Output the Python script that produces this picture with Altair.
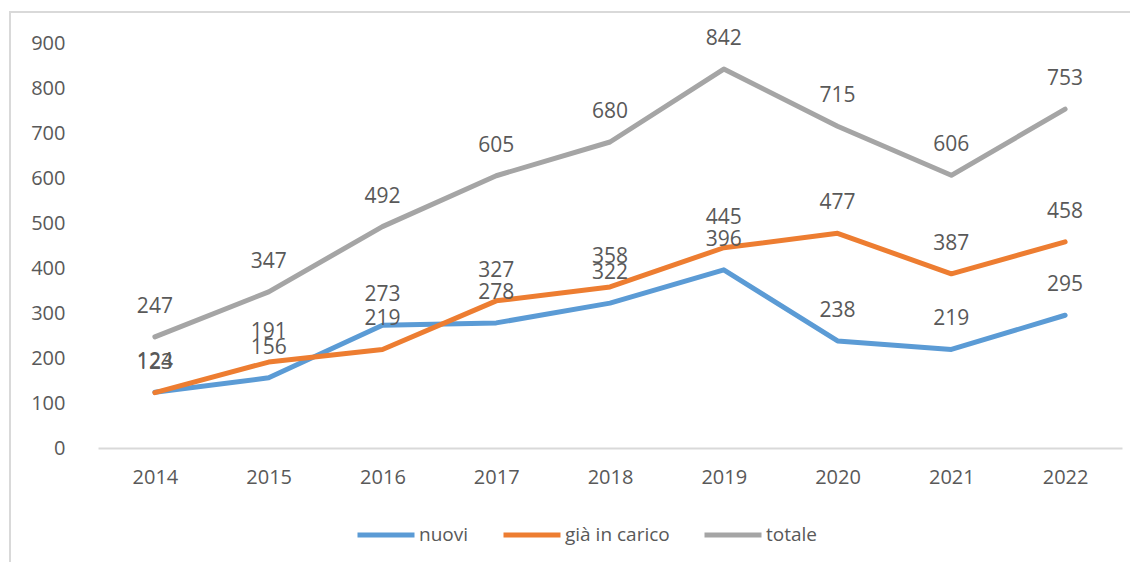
import altair as alt
import pandas as pd

years = ["2014", "2015", "2016", "2017", "2018", "2019", "2020", "2021", "2022"]
nuovi = [124, 156, 273, 278, 322, 396, 238, 219, 295]
gia_in_carico = [123, 191, 219, 327, 358, 445, 477, 387, 458]
totale = [247, 347, 492, 605, 680, 842, 715, 606, 753]
series_names = ["nuovi", "già in carico", "totale"]
series_colors = ["#5B9BD5", "#ED7D31", "#A5A5A5"]
y_ticks = [0, 100, 200, 300, 400, 500, 600, 700, 800, 900]

rows = []
for name, vals in zip(series_names, [nuovi, gia_in_carico, totale]):
    for y, v in zip(years, vals):
        rows.append({"anno": y, "serie": name, "valore": v})
df = pd.DataFrame(rows)

FONT = "Open Sans"
TEXT = "#595959"

x = alt.X("anno:N", sort=years, title=None,
          scale=alt.Scale(paddingInner=0, paddingOuter=0.5, padding=0.5),
          axis=alt.Axis(labelAngle=0, labelFontSize=20, labelColor=TEXT, labelFont=FONT,
                        ticks=False, domainColor="#D9D9D9", domainWidth=2, labelPadding=19,
                        grid=False))
y = alt.Y("valore:Q", title=None,
          scale=alt.Scale(domain=[0, 900], nice=False),
          axis=alt.Axis(values=y_ticks, labelFontSize=20, labelColor=TEXT, labelFont=FONT,
                        ticks=False, domain=False, grid=False, labelPadding=33))
color = alt.Color("serie:N", sort=series_names,
                  scale=alt.Scale(domain=series_names, range=series_colors),
                  legend=alt.Legend(title=None, orient="none", direction="horizontal",
                                    legendX=257, legendY=461,
                                    symbolType="stroke", symbolSize=3249, symbolStrokeWidth=5,
                                    labelFontSize=19, labelColor=TEXT, labelFont=FONT,
                                    columnPadding=24, labelOffset=2))

frame = alt.Chart(pd.DataFrame({"k": [0]})).mark_rect(
    fill=None, stroke="#D9D9D9", strokeWidth=2
).encode(x=alt.value(-88), x2=alt.value(1100), y=alt.value(-31), y2=alt.value(600))

lines = alt.Chart(df).mark_line(strokeWidth=5, strokeCap="round", strokeJoin="round").encode(
    x=x, y=y, color=color, order=alt.Order("serie:N")
)

labels = alt.Chart(df).mark_text(
    fontSize=21, font=FONT, color=TEXT, dy=-30, baseline="middle"
).encode(x=alt.X("anno:N", sort=years), y="valore:Q", text="valore:Q")

chart = alt.layer(frame, lines, labels).properties(
    width=1024, height=405,
    padding={"left": 90, "top": 35, "right": 8, "bottom": 114},
    autosize=alt.AutoSizeParams(type="none")
).configure_view(stroke=None)

chart.save("out.html", embed_options={"renderer": "svg", "actions": False})
